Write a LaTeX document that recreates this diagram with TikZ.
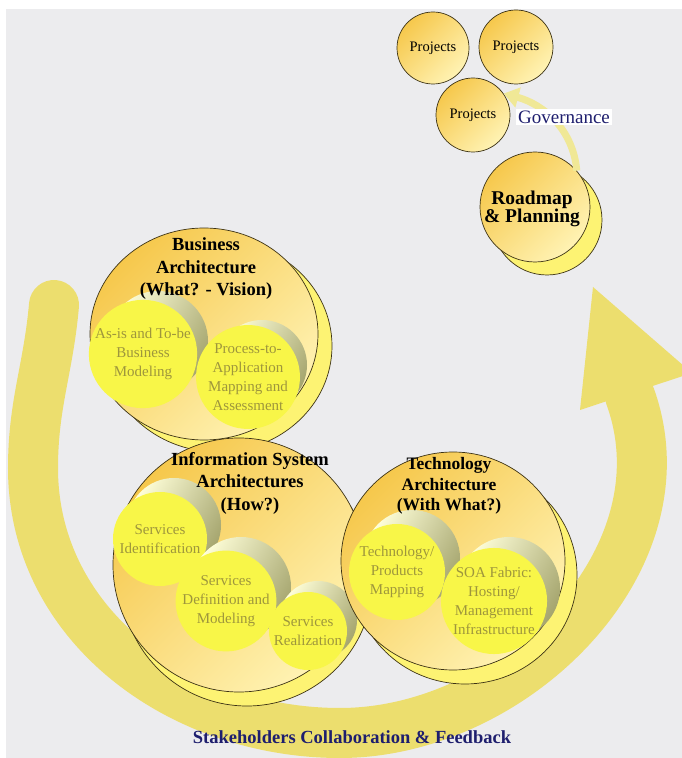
\documentclass[tikz,border=0pt]{standalone}
\usepackage{fontspec}
\setmainfont{Liberation Serif}
\usetikzlibrary{arrows.meta,shapes.geometric}
\definecolor{bandyellow}{RGB}{236,222,110}
\definecolor{paleyellow}{RGB}{240,232,150}
\definecolor{ringdark}{RGB}{60,50,20}
\definecolor{goldtop}{RGB}{246,200,76}
\definecolor{goldlow}{RGB}{255,243,180}
\definecolor{halo}{RGB}{253,243,115}
\definecolor{lemon}{RGB}{248,246,72}
\definecolor{olivetext}{RGB}{158,150,60}
\definecolor{olivegray}{RGB}{165,165,110}
\definecolor{navy}{RGB}{30,30,110}
\definecolor{bggray}{RGB}{236,236,238}
\tikzset{
    %Define the rings and balls
    archball/.style={
      ellipse,
      draw=ringdark, line width=0.7pt,
      top color=goldtop, bottom color=goldlow, shading angle=45},
    archhalo/.style={
      ellipse,
      draw=ringdark, line width=0.7pt,
      fill=halo},
    archtitle/.style={
      align=center,
      font=\fontsize{18.5}{22.5}\selectfont\bfseries},
    subball/.style={
      circle, inner sep=0pt,
      fill=lemon, text=olivetext,
      align=center,
      font=\fontsize{15}{19}\selectfont},
    subshade/.style={
      circle, inner sep=0pt,
      top color=white!85!yellow, bottom color=olivegray, shading angle=60},
    projball/.style={
      circle, inner sep=0pt,
      draw=ringdark, line width=0.7pt,
      top color=goldtop, bottom color=goldlow, shading angle=45,
      font=\fontsize{14.5}{16}\selectfont},
    govarrow/.style={
      -{Triangle[width=20pt,length=15pt]},
      draw=paleyellow, line width=7pt}
}
\begin{document}
\begin{tikzpicture}[x=1pt,y=1pt]
\useasboundingbox (0,0) rectangle (682,758);
\clip (0,0) rectangle (682,758);
\fill[white] (0,0) rectangle (682,758);
\fill[bggray] (6,0) rectangle (682,749);

% feedback loop
\coordinate (fbstart) at (54,453);
\coordinate (fbleft) at (33,290);
\coordinate (fbbottom) at (340,25);
\coordinate (fbend) at (630,362);
\coordinate (headl) at (580,348);
\coordinate (headtip) at (593,471);
\coordinate (headr) at (692,385);
\draw[bandyellow, line width=50pt, line cap=round]
  (fbstart) to[out=-95,in=90] (fbleft) to[out=-90,in=180] (fbbottom)
  to[out=0,in=-70] (fbend);
\fill[bandyellow] (headl) -- (headtip) -- (headr) -- cycle;

% business architecture
\node[archhalo, minimum width=228pt, minimum height=212pt] (bizhalo) at (218,412) {};
\node[archball, minimum width=228pt, minimum height=212pt] (biz) at (204,424) {};
\node[subshade, minimum size=100pt] (asisshade) at (158,417) {};
\node[subball, minimum size=100pt] (asis) at (143,404) {As-is and To-be\\Business\\Modeling};
\node[subshade, minimum size=90pt] (procshade) at (262,393) {};
\node[subball, minimum size=90pt] (proc) at (248,381) {Process-to-\\Application\\Mapping and\\Assessment};
\node[archtitle] (bizttl) at (206,489) {Business\\Architecture\\(What? - Vision)};

% information system architectures
\node[archhalo, minimum width=252pt, minimum height=254pt] (isahalo) at (247,179) {};
\node[archball, minimum width=252pt, minimum height=254pt] (isa) at (239,193) {};
\node[subshade, minimum size=94pt] (svcidshade) at (174,233) {};
\node[subball, minimum size=94pt] (svcid) at (160,219) {Services\\Identification};
\node[subshade, minimum size=100pt] (svcdefshade) at (241,171) {};
\node[subball, minimum size=100pt] (svcdef) at (226,157) {Services\\Definition and\\Modeling};
\node[subshade, minimum size=78pt] (svcrealshade) at (318,138) {};
\node[subball, minimum size=78pt] (svcreal) at (308,127) {Services\\Realization};
\node[archtitle] (isattl) at (250,275) {Information System\\Architectures\\(How?)};

% technology architecture
\node[archhalo, minimum width=224pt, minimum height=218pt] (techhalo) at (465,183) {};
\node[archball, minimum width=224pt, minimum height=218pt] (tech) at (453,197) {};
\node[subshade, minimum size=96pt] (prodshade) at (412,200) {};
\node[subball, minimum size=96pt] (prod) at (397,186) {Technology/\\Products\\Mapping};
\node[subshade, minimum size=102pt] (soashade) at (509,170) {};
\node[subball, minimum size=102pt] (soa) at (494,157) {SOA Fabric:\\Hosting/\\Management\\Infrastructure};
\node[archtitle, font=\fontsize{17.5}{20.5}\selectfont\bfseries] (techttl) at (449,272) {Technology\\Architecture\\(With What?)};

% projects and roadmap
\node[projball, minimum size=72pt] (proj1) at (433,710) {Projects};
\node[projball, minimum size=74pt] (proj2) at (516,711) {Projects};
\node[projball, minimum size=74pt] (proj3) at (473,643) {Projects};
\node[archhalo, minimum size=110pt] (roadhalo) at (547,538) {};
\node[archball, minimum size=110pt] (road) at (535,551) {};
\draw[govarrow] (road.41) to[out=95,in=-15] (proj3.35);
\node[fill=white, text=navy, inner sep=2pt, font=\fontsize{19}{21}\selectfont] (gov) at (564,641) {Governance};
\node[align=center, font=\fontsize{19.5}{18.5}\selectfont\bfseries] (roadttl) at (532,549) {Roadmap\\\& Planning};

\node[text=navy, font=\fontsize{18.5}{20}\selectfont\bfseries] (loopttl) at (352,21) {Stakeholders Collaboration \& Feedback};
\end{tikzpicture}
\end{document}
